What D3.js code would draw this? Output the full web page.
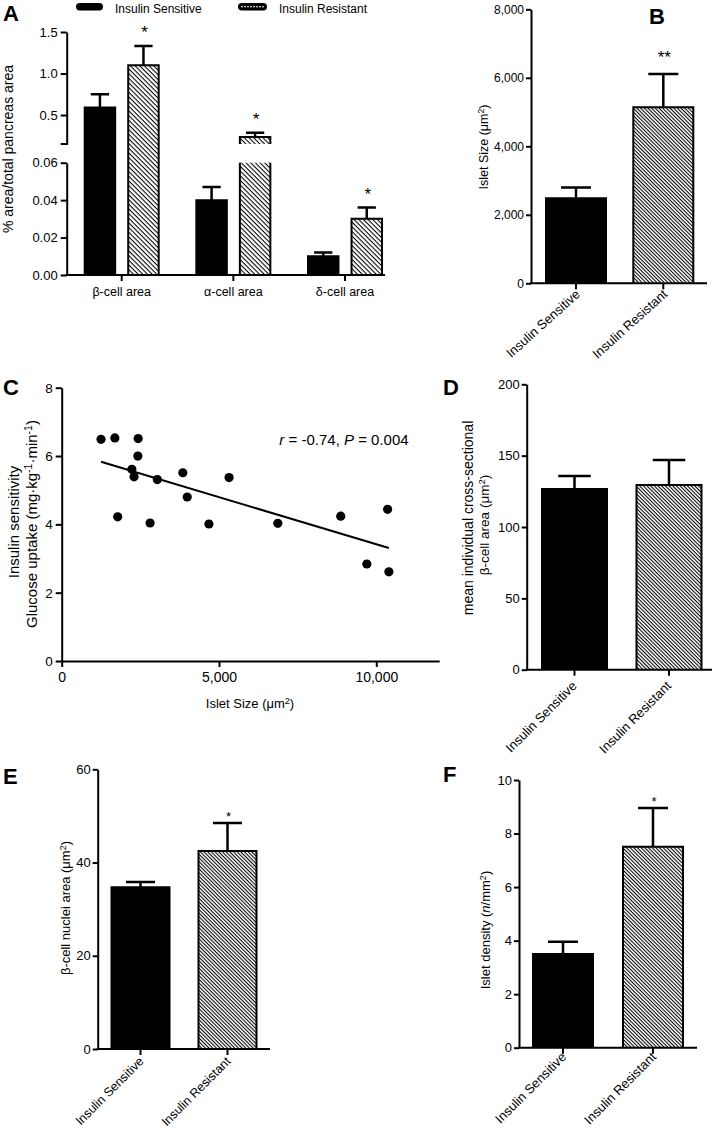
<!DOCTYPE html>
<html><head><meta charset="utf-8">
<script src="https://cdn.jsdelivr.net/npm/d3@7"></script>
<style>
body{margin:0;background:#fff}
svg{display:block}
text{font-family:"Liberation Sans",Arial,sans-serif;fill:#000}
</style>
</head><body>
<svg id="fig" width="721" height="1133"></svg>
<script>
// ---------------- DATA ----------------
const groups = ["Insulin Sensitive", "Insulin Resistant"];

// Panel A
const cellCategories = ["β-cell area", "α-cell area", "δ-cell area"];
const cellAreaSensitive = [0.59, 0.040, 0.010];
const cellAreaSensitiveSEM = [0.16, 0.007, 0.002];
const cellAreaResistant = [1.10, 0.235, 0.030];
const cellAreaResistantSEM = [0.23, 0.052, 0.006];
const cellAreaUpperTicks = [0.5, 1.0, 1.5];
const cellAreaLowerTicks = [0, 0.02, 0.04, 0.06];
const cellAreaStars = ["*", "*", "*"];

// Panel B
const isletSize = [2480, 5140];
const isletSizeSEM = [320, 970];
const isletSizeTicks = [0, 2000, 4000, 6000, 8000];
const isletSizeStars = ["", "**"];

// Panel C
const scatterIsletSize = [1250, 1690, 2430, 2420, 2230, 2300, 3040, 3850, 3990, 5320, 1780, 2810, 4680, 6870, 8870, 10360, 9700, 10400];
const scatterUptake   = [6.49, 6.53, 6.51, 6.00, 5.61, 5.39, 5.31, 5.51, 4.80, 5.37, 4.22, 4.04, 4.01, 4.03, 4.24, 4.44, 2.84, 2.61];
const fitIsletSize = [1250, 10400];
const fitUptake = [5.83, 3.31];
const scatterXTicks = [0, 5000, 10000];
const scatterYTicks = [0, 2, 4, 6, 8];

// Panel D
const betaCellArea = [126.7, 129.5];
const betaCellAreaSEM = [9.1, 17.5];
const betaCellAreaTicks = [0, 50, 100, 150, 200];

// Panel E
const nucleiArea = [34.7, 42.5];
const nucleiAreaSEM = [1.1, 6.0];
const nucleiAreaTicks = [0, 20, 40, 60];

// Panel F
const isletDensity = [3.50, 7.51];
const isletDensitySEM = [0.46, 1.44];
const isletDensityTicks = [0, 2, 4, 6, 8, 10];

// ---------------- HELPERS ----------------
const svg = d3.select("#fig");
const defs = svg.append("defs");
function makeHatch(id, s) {
  const p = defs.append("pattern").attr("id", id).attr("patternUnits", "userSpaceOnUse")
    .attr("width", s).attr("height", s).attr("patternTransform", "rotate(45)");
  p.append("rect").attr("width", s).attr("height", s).attr("fill", "#fff");
  p.append("rect").attr("width", s).attr("height", 1.05).attr("fill", "#000");
}
makeHatch("hatchA", 3.3);
makeHatch("hatch", 2.6);

function rich(sel, parts) {
  let shifted = false;
  parts.forEach(([t, o]) => {
    o = o || {};
    const ts = sel.append("tspan").text(t);
    if (o.it) ts.attr("font-style", "italic");
    if (o.sup && !shifted) { ts.attr("dy", "-0.45em").attr("font-size", "0.7em"); shifted = true; }
    else if (o.sup) { ts.attr("font-size", "0.7em"); }
    else if (shifted) { ts.attr("dy", "0.32em"); shifted = false; }
  });
  return sel;
}
function letter(t, x, y) {
  svg.append("text").attr("x", x).attr("y", y).attr("font-size", 22).attr("font-weight", "bold").text(t);
}
function styleAxis(g, fs) {
  g.select(".domain").attr("stroke", "#000").attr("stroke-width", 2);
  g.selectAll(".tick line").attr("stroke", "#000").attr("stroke-width", 2);
  g.selectAll(".tick text").attr("font-size", fs).attr("fill", "#000")
    .attr("font-family", "'Liberation Sans',Arial,sans-serif");
}
function star(x, y, t, fs) {
  svg.append("text").attr("x", x).attr("y", y).attr("text-anchor", "middle")
    .attr("font-size", fs).text(t);
}

// ---------------- PANEL A ----------------
(function () {
  const ax = 66.7;
  const yU = d3.scaleLinear().domain([0.151, 1.5]).range([144, 32]);
  const yL = d3.scaleLinear().domain([0, 0.06]).range([275, 162.7]);
  const xA = d3.scalePoint().domain(cellCategories).range([121.7, 345]);
  const xG = d3.scaleBand().domain(groups).range([-37, 37]).paddingInner(0.3);
  const bw = xG.bandwidth();
  const lowMax = yL.domain()[1], upBreak = cellAreaUpperTicks[0];

  const gU = svg.append("g").attr("transform", `translate(${ax},0)`)
    .call(d3.axisLeft(yU).tickValues(cellAreaUpperTicks).tickFormat(d3.format(".1f")).tickSize(6).tickSizeOuter(0).tickPadding(3));
  styleAxis(gU, 13);
  const gL = svg.append("g").attr("transform", `translate(${ax},0)`)
    .call(d3.axisLeft(yL).tickValues(cellAreaLowerTicks).tickFormat(d3.format(".2f")).tickSize(6).tickSizeOuter(0).tickPadding(3));
  styleAxis(gL, 13);
  svg.append("line").attr("x1", ax - 6).attr("x2", ax + 1).attr("y1", yU.range()[0]).attr("y2", yU.range()[0])
    .attr("stroke", "#000").attr("stroke-width", 2);

  const series = [
    {g: groups[0], v: cellAreaSensitive, s: cellAreaSensitiveSEM, fill: "#000"},
    {g: groups[1], v: cellAreaResistant, s: cellAreaResistantSEM, fill: "url(#hatchA)"}
  ];
  series.forEach((se, j) => {
    cellCategories.forEach((c, i) => {
      const v = se.v[i], s = se.s[i];
      const l = xA(c) + xG(se.g), r = l + bw;
      const pieces = [];
      if (v <= lowMax) pieces.push({t: yL(v), b: yL(0), top: true});
      else if (v > upBreak) pieces.push({t: yU(v), b: yL(0), top: true});
      else {
        pieces.push({t: yL(lowMax), b: yL(0), top: false});
        pieces.push({t: yU(v), b: yU.range()[0], top: true});
      }
      pieces.forEach(p => {
        svg.append("rect").attr("x", l).attr("y", p.t).attr("width", bw).attr("height", p.b - p.t).attr("fill", se.fill);
        const d = p.top ? `M${l},${p.b}V${p.t}H${r}V${p.b}` : `M${l},${p.b}V${p.t}M${r},${p.t}V${p.b}`;
        svg.append("path").attr("d", d).attr("fill", "none").attr("stroke", "#000").attr("stroke-width", 2);
      });
      const ys = v <= lowMax ? yL : yU;
      const cx = (l + r) / 2, cw = bw * 0.6;
      svg.append("path").attr("d", `M${cx},${ys(v)}V${ys(v + s)}M${cx - cw / 2},${ys(v + s)}H${cx + cw / 2}`)
        .attr("stroke", "#000").attr("stroke-width", 2.5).attr("fill", "none");
      if (j === 1 && cellAreaStars[i]) star(cx + 1, ys(v + s) - 8, cellAreaStars[i], 17);
    });
  });
  svg.append("line").attr("x1", ax - 1).attr("x2", 385).attr("y1", 275).attr("y2", 275).attr("stroke", "#000").attr("stroke-width", 2);
  cellCategories.forEach(c => {
    svg.append("line").attr("x1", xA(c)).attr("x2", xA(c)).attr("y1", 275).attr("y2", 281).attr("stroke", "#000").attr("stroke-width", 2);
    svg.append("text").attr("x", xA(c)).attr("y", 296).attr("text-anchor", "middle").attr("font-size", 12.5).text(c);
  });
  svg.append("text").attr("transform", "translate(13,149) rotate(-90)").attr("text-anchor", "middle").attr("font-size", 14)
    .text("% area/total pancreas area");
  // legend
  svg.append("rect").attr("x", 76).attr("y", 3).attr("width", 27).attr("height", 7.5).attr("rx", 3.7).attr("fill", "#000");
  svg.append("text").attr("x", 115).attr("y", 12.5).attr("font-size", 12).text(groups[0]);
  svg.append("rect").attr("x", 238).attr("y", 3).attr("width", 29).attr("height", 7.5).attr("rx", 3.7).attr("fill", "#000");
  svg.append("line").attr("x1", 241).attr("x2", 264).attr("y1", 6.75).attr("y2", 6.75).attr("stroke", "#fff")
    .attr("stroke-width", 1.2).attr("stroke-dasharray", "2,1");
  svg.append("text").attr("x", 279).attr("y", 12.5).attr("font-size", 12).text(groups[1]);
  letter("A", 3, 21);
})();

// ---------------- BAR PANELS (B, D, E, F) ----------------
function barPanel(o) {
  const y = d3.scaleLinear().domain(o.domain).range([o.y0, o.yTop]);
  const x = d3.scalePoint().domain(groups).range(o.xr);
  const gy = svg.append("g").attr("transform", `translate(${o.ax},0)`)
    .call(d3.axisLeft(y).tickValues(o.ticks).tickFormat(o.fmt).tickSize(5).tickSizeOuter(0).tickPadding(2));
  styleAxis(gy, o.fs);
  const fills = ["#000", "url(#hatch)"];
  groups.forEach((g, j) => {
    const v = o.values[j], s = o.sem[j];
    const l = x(g) - o.bw / 2, r = x(g) + o.bw / 2;
    svg.append("rect").attr("x", l).attr("y", y(v)).attr("width", o.bw).attr("height", y(0) - y(v)).attr("fill", fills[j]);
    svg.append("path").attr("d", `M${l},${y(0)}V${y(v)}H${r}V${y(0)}`).attr("fill", "none").attr("stroke", "#000").attr("stroke-width", 2);
    const cw = o.bw * 0.5;
    svg.append("path").attr("d", `M${x(g)},${y(v)}V${y(v + s)}M${x(g) - cw / 2},${y(v + s)}H${x(g) + cw / 2}`)
      .attr("stroke", "#000").attr("stroke-width", 2.5).attr("fill", "none");
    if (o.stars && o.stars[j]) star(x(g) + 1, y(v + s) - o.starGap, o.stars[j], o.starFs);
    svg.append("line").attr("x1", x(g)).attr("x2", x(g)).attr("y1", y(0)).attr("y2", y(0) + 6).attr("stroke", "#000").attr("stroke-width", 2);
    svg.append("text").attr("transform", `translate(${x(g) + o.lab[0]},${y(0) + o.lab[1]}) rotate(${o.rot})`)
      .attr("text-anchor", "end").attr("font-size", o.labFs || 13).text(g);
  });
  svg.append("line").attr("x1", o.ax - 1).attr("x2", o.xEnd).attr("y1", y(0)).attr("y2", y(0)).attr("stroke", "#000").attr("stroke-width", 2);
  o.ylab.forEach(L => {
    const t = svg.append("text").attr("transform", `translate(${L.x},${L.y}) rotate(-90)`).attr("text-anchor", "middle").attr("font-size", L.fs);
    rich(t, L.parts);
  });
}

barPanel({ax: 531, yTop: 9.3, y0: 283.3, xr: [576, 663.3], bw: 60, xEnd: 707, domain: [0, 8000],
  ticks: isletSizeTicks, fmt: d3.format(","), fs: 12, values: isletSize, sem: isletSizeSEM,
  stars: isletSizeStars, starGap: 11, starFs: 17, lab: [5, 12], rot: -42,
  ylab: [{x: 488, y: 147, fs: 12.5, parts: [["Islet Size (μm"], ["2", {sup: true}], [")"]]}]});

barPanel({ax: 526.7, yTop: 384.3, y0: 669.7, xr: [574.5, 669], bw: 65, xEnd: 712, domain: [0, 200],
  ticks: betaCellAreaTicks, fmt: d3.format("d"), fs: 13, values: betaCellArea, sem: betaCellAreaSEM,
  lab: [3, 17], rot: -45,
  ylab: [{x: 473, y: 518, fs: 14, parts: [["mean individual cross-sectional"]]},
         {x: 489, y: 525, fs: 13.5, parts: [["β-cell area (μm"], ["2", {sup: true}], [")"]]}]});

barPanel({ax: 97.7, yTop: 769.3, y0: 1049, xr: [140.5, 227.5], bw: 58, xEnd: 270, domain: [0, 60],
  ticks: nucleiAreaTicks, fmt: d3.format("d"), fs: 13, values: nucleiArea, sem: nucleiAreaSEM,
  stars: ["", "*"], starGap: 2, starFs: 13, lab: [4, 13], rot: -45, labFs: 12.5,
  ylab: [{x: 70, y: 908, fs: 13, parts: [["β-cell nuclei area (μm"], ["2", {sup: true}], [")"]]}]});

barPanel({ax: 519, yTop: 780, y0: 1047.7, xr: [563, 653], bw: 60, xEnd: 697, domain: [0, 10],
  ticks: isletDensityTicks, fmt: d3.format("d"), fs: 13, values: isletDensity, sem: isletDensitySEM,
  stars: ["", "*"], starGap: 2, starFs: 13, lab: [4, 10], rot: -45,
  ylab: [{x: 490, y: 930, fs: 13, parts: [["Islet density ("], ["n", {it: true}], ["/mm"], ["2", {sup: true}], [")"]]}]});

letter("B", 649, 24);
letter("D", 443, 395);
letter("E", 3, 784);
letter("F", 443, 782);

// ---------------- PANEL C ----------------
(function () {
  const x = d3.scaleLinear().domain([0, 12000]).range([61.7, 439.2]);
  const y = d3.scaleLinear().domain([0, 8]).range([661, 387.7]);
  const gx = svg.append("g").attr("transform", `translate(0,${y(0)})`)
    .call(d3.axisBottom(x).tickValues(scatterXTicks).tickFormat(d3.format(",")).tickSize(6).tickSizeOuter(0).tickPadding(5));
  styleAxis(gx, 14);
  const gy = svg.append("g").attr("transform", `translate(${x(0)},0)`)
    .call(d3.axisLeft(y).tickValues(scatterYTicks).tickFormat(d3.format("d")).tickSize(6).tickSizeOuter(0).tickPadding(3));
  styleAxis(gy, 13.5);
  svg.append("line").attr("x1", x(fitIsletSize[0])).attr("y1", y(fitUptake[0]))
    .attr("x2", x(fitIsletSize[1])).attr("y2", y(fitUptake[1])).attr("stroke", "#000").attr("stroke-width", 2);
  svg.append("g").selectAll("circle").data(scatterIsletSize).join("circle")
    .attr("cx", d => x(d)).attr("cy", (d, i) => y(scatterUptake[i])).attr("r", 4.6).attr("fill", "#000");
  const ann = svg.append("text").attr("x", 344).attr("y", 445).attr("text-anchor", "middle").attr("font-size", 15);
  rich(ann, [["r", {it: true}], [" = -0.74, "], ["P", {it: true}], [" = 0.004"]]);
  const xl = svg.append("text").attr("x", 250).attr("y", 708).attr("text-anchor", "middle").attr("font-size", 13);
  rich(xl, [["Islet Size (μm"], ["2", {sup: true}], [")"]]);
  svg.append("text").attr("transform", "translate(19,522) rotate(-90)").attr("text-anchor", "middle").attr("font-size", 15)
    .text("Insulin sensitivity");
  const l2 = svg.append("text").attr("transform", "translate(37,524) rotate(-90)").attr("text-anchor", "middle").attr("font-size", 15);
  rich(l2, [["Glucose uptake (mg·kg"], ["-1", {sup: true}], ["·min"], ["-1", {sup: true}], [")"]]);
  letter("C", 3, 395);
})();
</script>
</body></html>
